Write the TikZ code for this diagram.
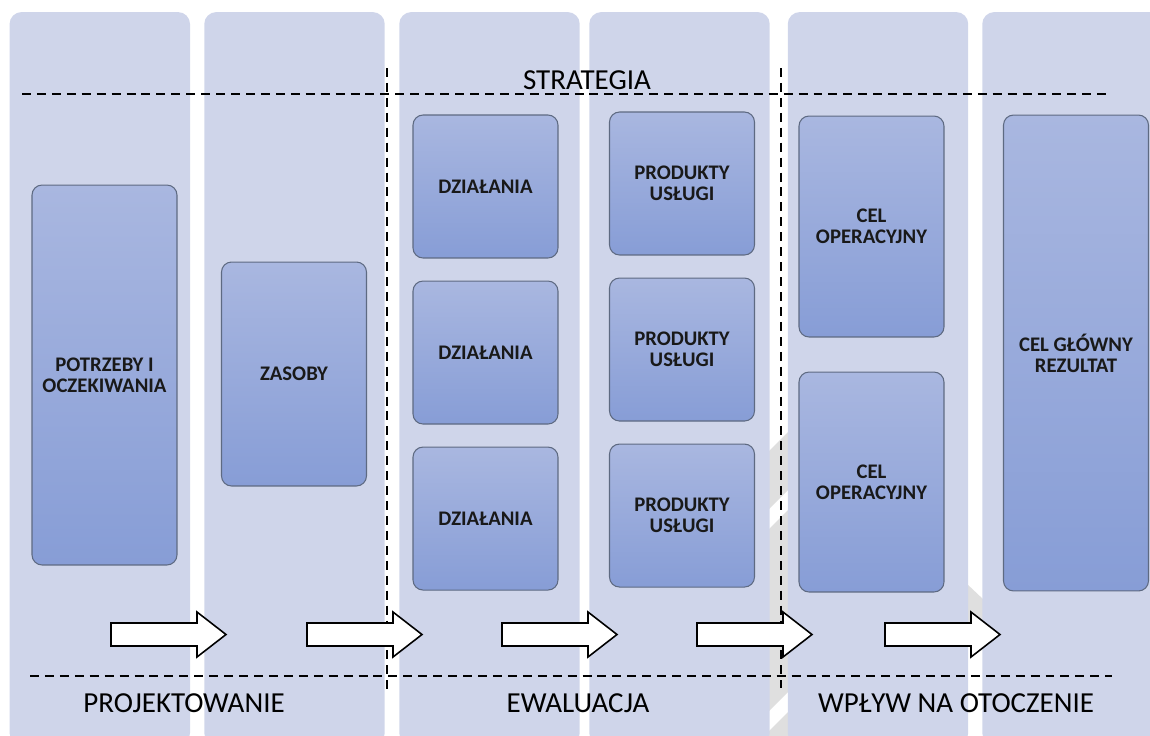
\documentclass[tikz,border=0pt]{standalone}
\usepackage{fontspec}
\setmainfont{Carlito}
\usepackage{xcolor}
\usetikzlibrary{positioning}
\definecolor{lanefill}{HTML}{CFD5EA}
\definecolor{boxtop}{HTML}{A9B7E0}
\definecolor{boxbot}{HTML}{879DD6}
\definecolor{boxline}{HTML}{5E6A82}
\definecolor{wmark}{HTML}{DFDFDF}
\tikzset{
    lane/.style={
        rectangle,
        rounded corners=2.4mm,
        fill=lanefill,
        inner sep=0pt,
        minimum width=36.1mm,
        minimum height=146.6mm,
    },
    stage/.style={
        rectangle,
        rounded corners=2mm,
        draw=boxline,
        line width=0.6pt,
        top color=boxtop,
        bottom color=boxbot,
        inner sep=0pt,
        minimum width=29mm,
        align=center,
        text=black!90,
        font=\bfseries\fontsize{11.8}{12}\selectfont,
    },
    phase/.style={
        font=\fontsize{16.5}{18}\selectfont,
        inner sep=0pt,
    },
    guide/.style={
        line width=0.85pt,
        dash pattern=on 5.1pt off 3.4pt,
    },
    flowarrow/.style={
        draw=black,
        fill=white,
        line width=0.9pt,
        line join=miter,
    },
}

\begin{document}
\begin{tikzpicture}[x=0.02cm, y=-0.02cm, node distance=4.4mm]
    \useasboundingbox (0,0) rectangle (1150,735);
    \clip (0,0) rectangle (1150,735);

    % watermark behind the lanes
    \fill[wmark] (768,452) -- (790,430) -- (790,488) -- (768,510) -- cycle;
    \fill[wmark] (768,530) -- (790,508) -- (790,690) -- (768,712) -- cycle;
    \fill[wmark] (768,732) -- (790,710) -- (790,740) -- (768,740) -- cycle;
    \fill[wmark] (966,583) -- (984,600) -- (984,640) -- (966,622) -- cycle;

    % lanes
    \foreach \x/\n in {99.8/col1, 294.5/col2, 489.5/col3, 679.5/col4, 878/col5, 1072.5/col6}
        \node[lane] (\n) at (\x,378.5) {};

    % boxes
    \node[stage, minimum height=76mm] (potrzeby) at (104.5,375) {POTRZEBY I\\OCZEKIWANIA};
    \node[stage, minimum height=44.8mm] (zasoby) at (294,374) {ZASOBY};

    \node[stage, minimum height=28.6mm] (dz1) at (485.5,186.5) {DZIAŁANIA};
    \node[stage, minimum height=28.6mm, below=of dz1] (dz2) {DZIAŁANIA};
    \node[stage, minimum height=28.6mm, below=of dz2] (dz3) {DZIAŁANIA};

    \node[stage, minimum height=28.6mm] (pr1) at (682,183.5) {PRODUKTY\\USŁUGI};
    \node[stage, minimum height=28.6mm, below=of pr1] (pr2) {PRODUKTY\\USŁUGI};
    \node[stage, minimum height=28.6mm, below=of pr2] (pr3) {PRODUKTY\\USŁUGI};

    \node[stage, minimum height=44.2mm] (cel1) at (871.5,226.5) {CEL\\OPERACYJNY};
    \node[stage, minimum height=44mm, below=6.8mm of cel1] (cel2) {CEL\\OPERACYJNY};

    \node[stage, minimum height=95.2mm] (glowny) at (1076,353) {CEL GŁÓWNY\\REZULTAT};

    % dashed guides
    \coordinate (sL) at (22,94);
    \coordinate (sR) at (1108,94);
    \coordinate (bL) at (30,676);
    \coordinate (bR) at (1112,676);
    \coordinate (v1t) at (387,68);
    \coordinate (v1b) at (387,690);
    \coordinate (v2t) at (781,68);
    \coordinate (v2b) at (781,688);
    \draw[guide] (sL) -- (sR);
    \draw[guide] (bL) -- (bR);
    \draw[guide] (v1t) -- (v1b);
    \draw[guide] (v2t) -- (v2b);

    % arrows
    \foreach \x [count=\i] in {111, 307, 502, 697, 885}
        \draw[flowarrow] (\x,623) coordinate (a\i) -- ++(86,0) -- ++(0,-11)
            -- ++(29,22.5) -- ++(-29,22.5) -- ++(0,-11) -- ++(-86,0) -- cycle;

    % labels
    \node[phase] (strategia) at (587,80) {STRATEGIA};
    \node[phase] (projekt) at (184,703) {PROJEKTOWANIE};
    \node[phase] (ewal) at (578,703) {EWALUACJA};
    \node[phase] (wplyw) at (956,703) {WPŁYW NA OTOCZENIE};
\end{tikzpicture}
\end{document}
